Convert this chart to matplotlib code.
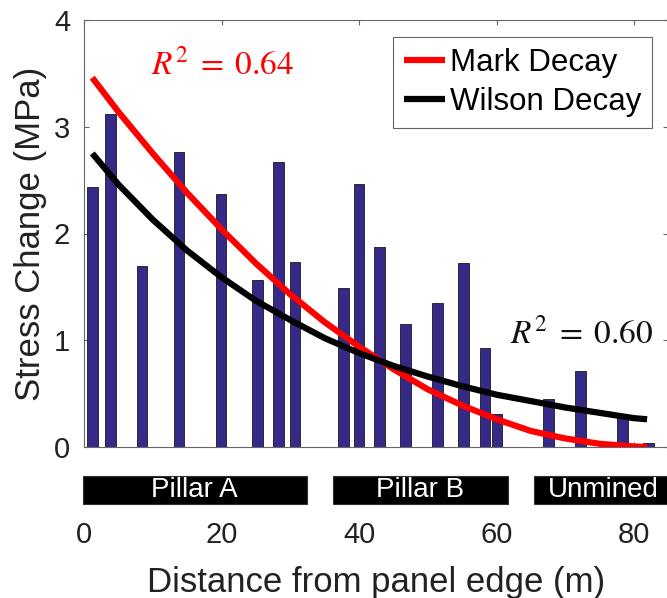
import matplotlib
matplotlib.use("Agg")
import matplotlib.pyplot as plt
from matplotlib.patches import Rectangle
import matplotlib.transforms as mtransforms

# ---------------- data ----------------
bar_x = [1.24, 3.85, 8.44, 13.82, 19.93, 25.24, 28.29, 30.69, 37.75, 40.0,
         42.98, 46.76, 51.42, 55.2, 58.33, 60.07, 67.56, 72.22, 78.33, 82.11]
bar_h = [2.44, 3.12, 1.70, 2.76, 2.37, 1.56, 2.67, 1.73, 1.49, 2.46,
         1.87, 1.15, 1.35, 1.72, 0.93, 0.31, 0.45, 0.71, 0.28, 0.04]

curve_x = [1.2, 5, 10, 15, 20, 25, 30, 35, 40, 45, 50, 55, 60, 65, 70, 75, 80, 81.9]
mark_y = [3.46, 3.14, 2.75, 2.38, 2.04, 1.72, 1.43, 1.17, 0.94, 0.73, 0.54,
          0.39, 0.26, 0.15, 0.08, 0.03, 0.005, 0.0]
wilson_y = [2.75, 2.46, 2.13, 1.84, 1.59, 1.37, 1.19, 1.02, 0.88, 0.76, 0.66,
            0.57, 0.49, 0.43, 0.37, 0.32, 0.27, 0.26]

zone_names = ["Pillar A", "Pillar B", "Unmined"]
zone_start = [-0.15, 36.2, 65.5]
zone_end = [32.4, 61.7, 90.0]
zone_label_x = [16.1, 48.95, 75.6]

xticks = [0, 20, 40, 60, 80]
yticks = [0, 1, 2, 3, 4]

# ---------------- style ----------------
plt.rcParams['font.family'] = ['Liberation Sans', 'DejaVu Sans']
plt.rcParams['mathtext.fontset'] = 'stix'

W, H = 667, 598
fig = plt.figure(figsize=(W / 100, H / 100), dpi=100)
ax_left, ax_right, ax_top, ax_bottom = 84, 668.4, 20, 447
ax = fig.add_axes([ax_left / W, (H - ax_bottom) / H,
                   (ax_right - ax_left) / W, (ax_bottom - ax_top) / H])

spine_col = '#666666'

ax.bar(bar_x, bar_h, width=1.55, color='#352a87', edgecolor='#1a1a1a',
       linewidth=0.6, zorder=2)
ax.plot(curve_x, mark_y, color='#ff0000', lw=4.5, label='Mark Decay',
        zorder=3, solid_capstyle='butt')
ax.plot(curve_x, wilson_y, color='black', lw=4.5, label='Wilson Decay',
        zorder=3, solid_capstyle='butt')

ax.set_xlim(0, 85)
ax.set_ylim(0, 4)
ax.set_xticks(xticks)
ax.set_yticks(yticks)
ax.set_xticklabels([str(v) for v in xticks])
ax.set_yticklabels([str(v) for v in yticks])

for s in ax.spines.values():
    s.set_color(spine_col)
    s.set_linewidth(0.8)
ax.tick_params(axis='both', direction='in', length=3.6, width=0.8,
               color=spine_col, labelsize=21, top=True, right=True,
               labelcolor='#222222')
ax.tick_params(axis='x', pad=53)
ax.tick_params(axis='y', pad=10)

ax.set_xlabel('Distance from panel edge (m)', fontsize=25, color='#222222')
ax.xaxis.label.set_va('baseline')
ax.xaxis.set_label_coords(0.5, (ax_bottom - 592) / (ax_bottom - ax_top))
ax.set_ylabel('Stress Change (MPa)', fontsize=25, color='#222222')
ax.yaxis.label.set_va('center')
ax.yaxis.set_label_coords((31 - ax_left) / (ax_right - ax_left), 0.5)

# R^2 annotations
ax.text(9.75, 3.49, r'$R^2\;=\;0.64$', color='#ff0000', fontsize=24,
        ha='left', va='baseline', zorder=4)
ax.text(62.0, 0.974, r'$R^2\;=\;0.60$', color='#111111', fontsize=24,
        ha='left', va='baseline', zorder=4)

# zone bands below the axes
trans = mtransforms.blended_transform_factory(ax.transData, ax.transAxes)
band_y0 = (ax_bottom - 504) / (ax_bottom - ax_top)
band_y1 = (ax_bottom - 476) / (ax_bottom - ax_top)
for name, x0, x1, lx in zip(zone_names, zone_start, zone_end, zone_label_x):
    ax.add_patch(Rectangle((x0, band_y0), x1 - x0, band_y1 - band_y0,
                           transform=trans, facecolor='black',
                           edgecolor='#333333', lw=0.8, clip_on=False))
    ax.text(lx, (band_y0 + band_y1) / 2, name, transform=trans, color='white',
            fontsize=20, ha='center', va='center', clip_on=False)

leg = ax.legend(loc='upper right',
                bbox_to_anchor=((652 - ax_left) / (ax_right - ax_left),
                                (ax_bottom - 37) / (ax_bottom - ax_top)),
                borderaxespad=0, fontsize=22.5, handlelength=1.3,
                handletextpad=0.16, borderpad=0.35, labelspacing=0.3,
                fancybox=False, framealpha=1, edgecolor=spine_col)
leg.get_frame().set_linewidth(0.8)

fig.savefig('out.png', dpi=100)
